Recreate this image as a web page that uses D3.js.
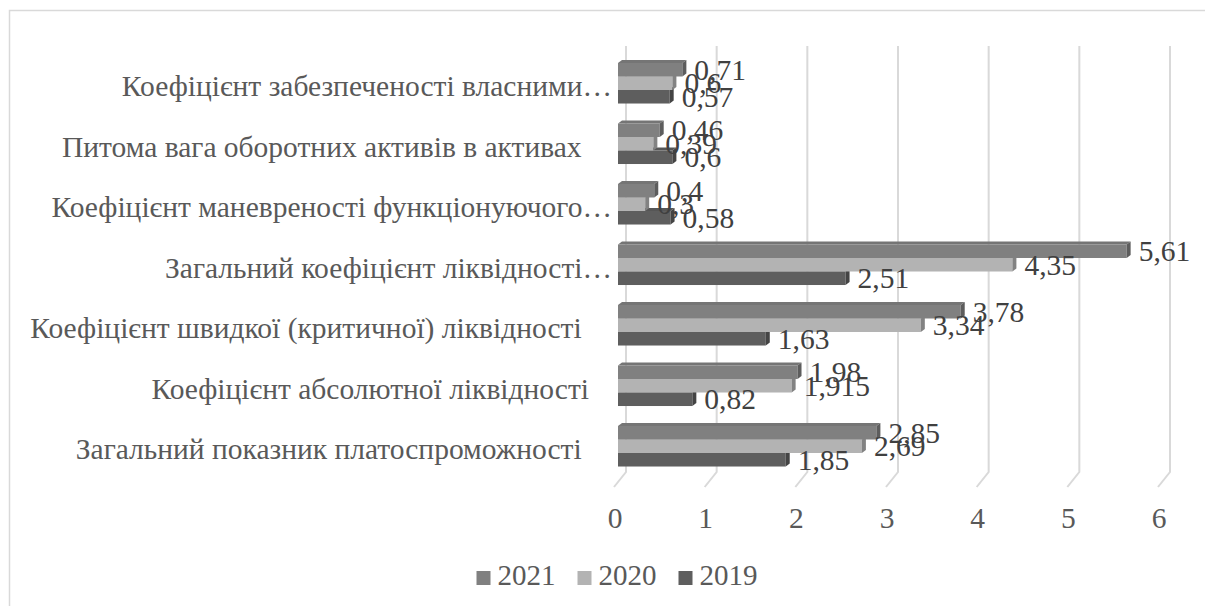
<!DOCTYPE html>
<html>
<head>
<meta charset="utf-8">
<script src="https://cdn.jsdelivr.net/npm/d3@7"></script>
<style>
  body { margin: 0; background: #fff; }
  text { font-family: "Liberation Serif", "Times New Roman", serif; white-space: pre; }
</style>
</head>
<body>
<div id="chart"></div>
<script>
// categories top to bottom
const categories = [
    "Коефіцієнт забезпеченості власними…",
    "Питома вага оборотних активів в активах ",
    "Коефіцієнт маневреності функціонуючого…",
    "Загальний коефіцієнт ліквідності…",
    "Коефіцієнт швидкої (критичної) ліквідності ",
    "Коефіцієнт абсолютної ліквідності",
    "Загальний показник платоспроможності "
]
const years = ["2021", "2020", "2019"]
const values2021 = [0.71, 0.46, 0.4, 5.61, 3.78, 1.98, 2.85]
const values2020 = [0.6, 0.39, 0.3, 4.35, 3.34, 1.915, 2.69]
const values2019 = [0.57, 0.6, 0.58, 2.51, 1.63, 0.82, 1.85]
const ticks = [0, 1, 2, 3, 4, 5, 6]

const colors = {"2021": "#808080", "2020": "#b3b3b3", "2019": "#5e5e5e"}
const series = {"2021": values2021, "2020": values2020, "2019": values2019}

const W = 1205, H = 606
const dx = 4, dy = -3   // 3d depth of a bar
const fs = 29.5

const svg = d3.select("#chart").append("svg")
    .attr("width", W)
    .attr("height", H)

// chart border
svg.append("rect")
    .attr("x", 9.5).attr("y", 10.5)
    .attr("width", W).attr("height", H)
    .attr("fill", "none")
    .attr("stroke", "#d9d9d9")
    .attr("stroke-width", 1.5)

const x = d3.scaleLinear()
    .domain([0, 6])
    .range([618, 1162])

const y = d3.scaleBand()
    .domain(categories)
    .range([53, 476.5])
    .paddingInner(0.33)
    .paddingOuter(0.165)

const ySub = d3.scaleBand()
    .domain(years)
    .range([0, y.bandwidth()])

// back wall gridlines + floor diagonals
const grid = svg.append("g")
grid.selectAll("path")
    .data(ticks)
    .join("path")
    .attr("d", d => `M${x(d) + 8},46 L${x(d) + 8},472 L${x(d) - 4},487`)
    .attr("fill", "none")
    .attr("stroke", "#d9d9d9")
    .attr("stroke-width", 2)

// tick labels
svg.append("g").selectAll("text")
    .data(ticks)
    .join("text")
    .attr("x", d => x(d) - 3)
    .attr("y", 528)
    .attr("text-anchor", "middle")
    .attr("font-size", fs)
    .attr("fill", "#595959")
    .text(d => d)

// category labels
svg.append("g").selectAll("text")
    .data(categories)
    .join("text")
    .attr("x", d => d.endsWith("…") ? 612 : 589)
    .attr("y", d => y(d) + y.bandwidth() / 2 + 13)
    .attr("text-anchor", "end")
    .attr("font-size", fs)
    .attr("fill", "#595959")
    .text(d => d)

// bars, drawn bottom series first so upper bars cover lower top faces
const bars = []
categories.forEach((c, i) => {
    years.slice().reverse().forEach(yr => {
        bars.push({cat: c, year: yr, value: series[yr][i]})
    })
})

const barG = svg.append("g")
bars.forEach(b => {
    const x0 = x(0), x1 = x(b.value)
    const y0 = y(b.cat) + ySub(b.year), y1 = y0 + ySub.bandwidth()
    const col = d3.color(colors[b.year])
    const g = barG.append("g")
    g.append("path") // top face
        .attr("d", `M${x0},${y0} L${x0 + dx},${y0 + dy} L${x1 + dx},${y0 + dy} L${x1},${y0} Z`)
        .attr("fill", col.darker(0.25))
    g.append("rect")
        .attr("x", x0).attr("y", y0)
        .attr("width", x1 - x0).attr("height", y1 - y0)
        .attr("fill", col)
    g.append("path") // side face
        .attr("d", `M${x1},${y0} L${x1 + dx},${y0 + dy} L${x1 + dx},${y1 + dy} L${x1},${y1} Z`)
        .attr("fill", col.darker(0.9))
})

// data labels
svg.append("g").selectAll("text")
    .data(bars)
    .join("text")
    .attr("x", d => x(d.value) + 12)
    .attr("y", d => y(d.cat) + ySub(d.year) + ySub.bandwidth() / 2 + 10)
    .attr("font-size", fs)
    .attr("fill", "#404040")
    .text(d => String(d.value).replace(".", ","))

// legend
const legend = svg.append("g")
let lx = 0
years.forEach(yr => {
    legend.append("rect")
        .attr("x", lx).attr("y", -14)
        .attr("width", 14).attr("height", 14)
        .attr("fill", colors[yr])
    const t = legend.append("text")
        .attr("x", lx + 21).attr("y", 0)
        .attr("font-size", 29)
        .attr("fill", "#595959")
        .text(yr)
    lx += 21 + t.node().getComputedTextLength() + 22
})
legend.attr("transform", `translate(${617 - (lx - 22) / 2},585)`)
</script>
</body>
</html>
